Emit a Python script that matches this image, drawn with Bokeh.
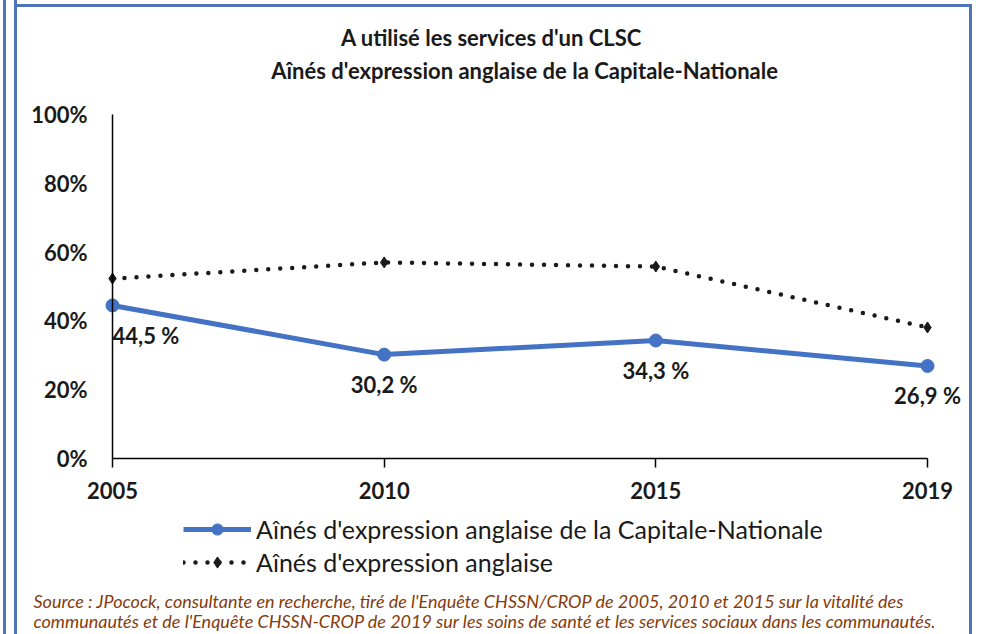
from bokeh.plotting import figure
from bokeh.models import (Range1d, ColumnDataSource, LabelSet, Label, Legend, LegendItem,
                          FixedTicker, NumeralTickFormatter)
from bokeh.embed import file_html
from bokeh.resources import INLINE
from bokeh.core.properties import value

# ---------------- data ----------------
categories = ["2005", "2010", "2015", "2019"]
capitale_nationale = [0.445, 0.302, 0.343, 0.269]
aines_anglais = [0.523, 0.570, 0.558, 0.381]
data_labels = ["44,5 %", "30,2 %", "34,3 %", "26,9 %"]
y_ticks = [0.0, 0.2, 0.4, 0.6, 0.8, 1.0]

title_lines = ["A utilisé les services d'un CLSC",
               "Aînés d'expression anglaise de la Capitale-Nationale"]
series_names = ["Aînés d'expression anglaise de la Capitale-Nationale",
                "Aînés d'expression anglaise"]
source_lines = [
    "Source : JPocock, consultante en recherche, tiré de l'Enquête CHSSN/CROP de 2005, 2010 et 2015 sur la vitalité des",
    "communautés et de l'Enquête CHSSN-CROP de 2019 sur les soins de santé et les services sociaux dans les communautés.",
]

# ---------------- styles ----------------
FONT = "Lato"
BLUE = "#4472C4"
DARK = "#1a1a1a"
FRAME = "#4f74b8"
SRC = "#843c0c"

W, H = 972, 634
x = list(range(len(categories)))
n = len(categories) - 1

p = figure(width=W, height=H,
           x_range=Range1d(-0.4123, n + 0.1656),
           y_range=Range1d(-0.5116, 1.3314),
           output_backend="svg", toolbar_location=None,
           min_border_left=0, min_border_right=0,
           min_border_top=0, min_border_bottom=0)
p.styles = {
    "background-color": "white",
    "box-shadow": (f"inset 3px 0 0 0 white, inset 6px 0 0 0 {FRAME}, "
                   f"inset 14px 0 0 0 white, inset 17px 0 0 0 {FRAME}, "
                   f"inset 0 4px 0 0 white, inset 0 7px 0 0 {FRAME}, "
                   f"inset -3px 0 0 0 {FRAME}"),
}
p.outline_line_color = None
p.grid.visible = False
p.background_fill_alpha = 0
p.border_fill_alpha = 0

# x axis
xa = p.xaxis[0]
xa.fixed_location = 0
xa.ticker = FixedTicker(ticks=x)
xa.major_label_overrides = {i: c for i, c in enumerate(categories)}
xa.bounds = (0, n)
xa.major_tick_out = 9
xa.major_tick_in = 0
xa.minor_tick_line_color = None
xa.axis_line_color = "black"
xa.axis_line_width = 1.5
xa.major_tick_line_color = "black"
xa.major_tick_line_width = 1.5
xa.major_label_text_font = FONT
xa.major_label_text_font_style = "bold"
xa.major_label_text_font_size = "22px"
xa.major_label_text_color = DARK
xa.major_label_standoff = 14

# y axis
ya = p.yaxis[0]
ya.fixed_location = 0
ya.bounds = (0, 1)
ya.ticker = FixedTicker(ticks=y_ticks)
ya.formatter = NumeralTickFormatter(format="0%")
ya.major_tick_out = 0
ya.major_tick_in = 0
ya.minor_tick_line_color = None
ya.axis_line_color = "black"
ya.axis_line_width = 1.5
ya.major_label_text_font = FONT
ya.major_label_text_font_style = "bold"
ya.major_label_text_font_size = "22px"
ya.major_label_text_color = DARK
ya.major_label_standoff = 25

# series
l2 = p.line(x, aines_anglais, line_color=DARK, line_width=4.5, line_dash="0 12", line_cap="round")
s2 = p.scatter(x, aines_anglais, marker="diamond", size=11, color=DARK)
l1 = p.line(x, capitale_nationale, line_color=BLUE, line_width=5)
s1 = p.scatter(x, capitale_nationale, marker="circle", size=13, color=BLUE)

# data labels
aligns = ["left"] + ["center"] * n
lab_src = ColumnDataSource(dict(x=x, y=capitale_nationale, text=data_labels, align=aligns))
p.add_layout(LabelSet(x="x", y="y", text="text", source=lab_src, y_offset=-30,
                      text_align="align", text_baseline="middle",
                      text_font=value(FONT), text_font_style="bold",
                      text_font_size="22px", text_color=DARK))

# title
for tx, ty, t in [(1.395, 1.224, title_lines[0]), (1.517, 1.128, title_lines[1])]:
    p.add_layout(Label(x=tx, y=ty, text=t, text_align="center", text_baseline="middle",
                       text_font=FONT, text_font_style="bold", text_font_size="22px",
                       text_color=DARK))

# source
for ty, t in [(-0.413, source_lines[0]), (-0.471, source_lines[1])]:
    p.add_layout(Label(x=-0.291, y=ty, text=t, text_align="left", text_baseline="middle",
                       text_font=FONT, text_font_style="italic", text_font_size="18px",
                       text_color=SRC))

# legend
legend = Legend(items=[LegendItem(label=series_names[0], renderers=[l1, s1]),
                       LegendItem(label=series_names[1], renderers=[l2, s2])],
                location=(183, 57), padding=0, margin=0, spacing=3,
                glyph_width=68, glyph_height=28, label_height=28, label_standoff=5,
                label_text_font=FONT, label_text_font_size="25px", label_text_color=DARK,
                border_line_color=None, background_fill_alpha=0)
p.add_layout(legend, "center")

open("out.html", "w").write(file_html(p, INLINE))
